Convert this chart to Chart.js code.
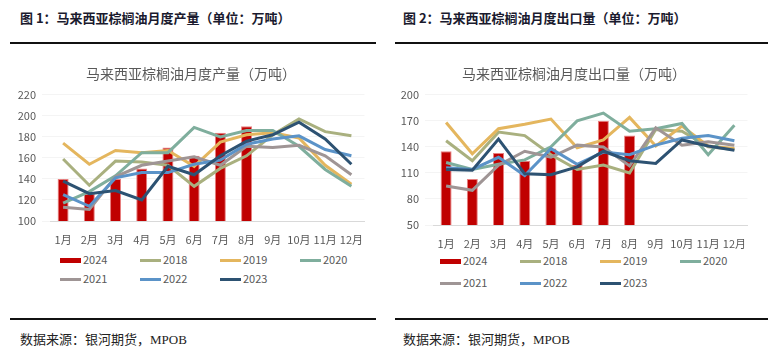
<!DOCTYPE html>
<html>
<head>
<meta charset="utf-8">
<script src="https://cdn.jsdelivr.net/npm/chart.js@4"></script>
<style>
    body { margin: 0; width: 780px; height: 360px; background: #fff; position: relative; overflow: hidden;
           font-family: "Noto Sans CJK SC", "Noto Sans", sans-serif; }
    .head { position: absolute; top: 8px; font-size: 13px; font-weight: bold; color: #1a1a2e; }
    .rule { position: absolute; height: 1.5px; background: #111; }
    .src { position: absolute; top: 329px; font-size: 13px; color: #222;
           font-family: "Liberation Serif", "Noto Sans CJK SC", serif; }
    .box { position: absolute; }
    .legend { position: absolute; font-size: 11px; color: #595959; }
    .item { position: absolute; white-space: nowrap; line-height: 14px; }
    .item i { display: inline-block; width: 21px; height: 3px; vertical-align: middle; margin-right: 2px; margin-top: -2px; }
</style>
</head>
<body>
<div class="head" style="left:20px">图 1：马来西亚棕榈油月度产量（单位：万吨）</div>
<div class="head" style="left:403px">图 2：马来西亚棕榈油月度出口量（单位：万吨）</div>
<div class="rule" style="left:10px; width:366px; top:42px"></div>
<div class="rule" style="left:395px; width:373px; top:42px"></div>
<div class="rule" style="left:10px; width:366px; top:318px"></div>
<div class="rule" style="left:395px; width:373px; top:318px"></div>
<div class="src" style="left:20px">数据来源：银河期货，MPOB</div>
<div class="src" style="left:403px">数据来源：银河期货，MPOB</div>

<div class="box" style="left:15px; top:58px; width:352px; height:187px"><canvas id="prodChart"></canvas></div>
<div class="box" style="left:398px; top:58px; width:352px; height:191px"><canvas id="exportChart"></canvas></div>
<div class="legend" id="prodLegend"></div>
<div class="legend" id="exportLegend"></div>

<script>
// month labels shared by both charts
const months = ['1月', '2月', '3月', '4月', '5月', '6月', '7月', '8月', '9月', '10月', '11月', '12月'];
const years = ['2024', '2018', '2019', '2020', '2021', '2022', '2023'];
const colors = ['#C00000', '#A9B07F', '#E4B65E', '#7FAE9D', '#9F9595', '#5B93C8', '#2D5272'];

// monthly production (10k tonnes)
const prod2024 = [140, 126, 140, 150, 170, 162, 184, 190];
const prod2018 = [159, 134, 157, 156, 153, 133, 150, 162, 182, 197, 185, 181];
const prod2019 = [174, 154, 167, 165, 167, 152, 175, 182, 184, 179, 153, 135];
const prod2020 = [117, 128, 143, 165, 165, 189, 180, 186, 186, 171, 149, 133];
const prod2021 = [113, 111, 142, 153, 157, 161, 153, 171, 170, 172, 162, 144];
const prod2022 = [125, 114, 141, 146, 146, 154, 158, 173, 178, 181, 168, 162];
const prod2023 = [138, 126, 129, 120, 152, 144, 162, 176, 182, 194, 178, 154];

// monthly exports (10k tonnes)
const exp2024 = [135, 103, 133, 124, 138, 119, 170, 153];
const exp2018 = [147, 124, 157, 153, 131, 114, 119, 110, 160, 158, 140, 137];
const exp2019 = [168, 132, 161, 166, 172, 139, 148, 174, 141, 164, 141, 138];
const exp2020 = [122, 114, 120, 125, 140, 170, 179, 158, 161, 167, 131, 165];
const exp2021 = [95, 90, 119, 135, 128, 142, 140, 118, 162, 142, 146, 142];
const exp2022 = [116, 114, 128, 107, 138, 120, 134, 131, 142, 150, 153, 147];
const exp2023 = [114, 113, 149, 109, 108, 117, 135, 124, 121, 148, 141, 136];

const tickColor = '#595959';
const tickFont = { family: 'Noto Sans CJK SC', size: 11 };

// builds the bar + six line datasets for one chart
const buildDatasets = (series) => series.map((data, i) => i === 0
    ? { type: 'bar', label: years[i], data, backgroundColor: colors[i], borderColor: '#E88080',
        borderWidth: 1, barPercentage: 0.42, categoryPercentage: 1, order: 10 }
    : { type: 'line', label: years[i], data, borderColor: colors[i], backgroundColor: colors[i],
        borderWidth: 3, pointRadius: 0, tension: 0, order: 10 - i });

const makeChart = (id, title, series, min, max, step) => new Chart(document.getElementById(id), {
    data: { labels: months, datasets: buildDatasets(series) },
    options: {
        responsive: true,
        maintainAspectRatio: false,
        animation: false,
        layout: { padding: { left: 0, right: 0, top: 0, bottom: 0 } },
        plugins: {
            legend: { display: false },
            tooltip: { enabled: false },
            title: {
                display: true,
                text: title,
                color: tickColor,
                font: { family: 'Noto Sans CJK SC', size: 14, weight: 'normal' },
                padding: { top: 7, bottom: 13 }
            }
        },
        scales: {
            x: {
                grid: { display: false },
                border: { color: '#D9D9D9' },
                ticks: { color: tickColor, font: tickFont, maxRotation: 0, padding: 4 },
                afterFit: (s) => { s.height = 24; }
            },
            y: {
                min, max,
                grid: { color: '#F4F4F4' },
                border: { display: false },
                ticks: { stepSize: step, color: tickColor, font: tickFont, padding: 6 },
                afterFit: (s) => { s.width = 35; }
            }
        }
    }
});

makeChart('prodChart', '马来西亚棕榈油月度产量（万吨）',
    [prod2024, prod2018, prod2019, prod2020, prod2021, prod2022, prod2023], 100, 220, 20);
makeChart('exportChart', '马来西亚棕榈油月度出口量（万吨）',
    [exp2024, exp2018, exp2019, exp2020, exp2021, exp2022, exp2023], 50, 200, 30);

// legend in a 4-column grid, like the spreadsheet original
const buildLegend = (id, left, top, rowGap) => {
    const box = document.getElementById(id);
    box.style.left = left + 'px';
    box.style.top = top + 'px';
    years.forEach((y, i) => {
        const item = document.createElement('div');
        item.className = 'item';
        item.style.left = (i % 4) * 80 + 'px';
        item.style.top = Math.floor(i / 4) * rowGap + 'px';
        const h = i === 0 ? 5 : 3;
        item.innerHTML = `<i style="background:${colors[i]};height:${h}px"></i>${y}`;
        box.appendChild(item);
    });
};

buildLegend('prodLegend', 60, 252, 19);
buildLegend('exportLegend', 440, 253, 22);
</script>
</body>
</html>
